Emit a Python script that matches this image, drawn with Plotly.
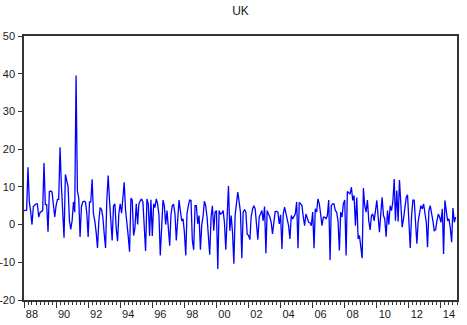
import pandas as pd
import plotly.graph_objects as go

# Monthly values, 1988M01 - 2014M12, one list per year
y1988 = [3.7, 3.7, 3.8, 15.2, 6, 3.5, 0, 4.8, 5.2, 5.5, 5.5, 2]
y1989 = [3.2, 3.5, 3.7, 16.3, 5.3, 5.3, -1.9, 8.8, 8.9, 8.6, 4, 2]
y1990 = [5, 6.7, 6.7, 20.5, 10.5, 4, -3.5, 13.3, 11.8, 10, 1, -1.3]
y1991 = [1, 6, 3.3, 39.5, 9, 7, -3.3, 4.8, 6, 6.2, 6, 3]
y1992 = [-3.3, 6, 6, 12, 2.8, 1, -2, -6.2, 1, 4.5, 4, 2]
y1993 = [-2.5, -6.2, 6.5, 13, 6.5, 1, -4.2, 5, 5.5, -1, -4.4, 3]
y1994 = [5.5, 3, 7, 11.2, 4, -0.7, -3, -7.2, 7, 6.5, -2.9, -1]
y1995 = [5.5, 0, 5.5, 6.3, 6.8, 6, -0.5, -7, 6.8, 5.5, -3, 6.6]
y1996 = [-3, 5.5, 4.5, 6.8, 5.5, 2.5, -8.2, 1, 6.5, 5, 0, 3.7]
y1997 = [0, -5.6, 2.6, 5.1, 5.3, 2.8, -4.2, 2, 6.5, 3.7, 1, 1.5]
y1998 = [-2, -8.2, 2.8, 5, 6.5, 6.4, -4.2, -6.7, 5, 5, 0.2, 2.4]
y1999 = [-6.7, 0, 2, 6.2, 5, 2, -3, -8, 2, 5, -1.6, 3.3]
y2000 = [3.7, -11.8, 3.7, 2.8, 3, 3.7, 0.6, -6.7, 2, 10.2, -1.6, 2.4]
y2001 = [-2, -10.4, 2.4, 5.5, 8.6, 6, 3.3, -8.9, 3.3, 4, 3.3, -2.5]
y2002 = [-2.9, -4, 2, 4, 5, 4.2, 1, -4, 2, 3, 3.7, 1]
y2003 = [4.8, -7.6, 3.7, 2.8, 2, 0.6, -2.5, 0.6, 3.5, 3.5, 3.3, 0.2]
y2004 = [2.6, -6.5, 2.8, 4.6, 3, 1, -0.3, -3.8, 2.4, 1.5, 2, 2.8]
y2005 = [6, -6.3, 5.9, 5.3, 5.1, 2, -0.3, 2.8, 1.5, 0.6, 0.5, -0.3]
y2006 = [3.3, -6.3, 4.2, 3.3, 6.8, 5.5, 2.8, -0.3, 2, 2, 1.5, 2.4]
y2007 = [6.5, -9.4, 5, 5.5, 5.5, 3.7, 3.3, 1, -6.9, 3.3, 2, 5.5]
y2008 = [6.5, -8.2, 8.8, 8.5, 8.1, 9.9, 6.4, 7.7, -0.3, 7.2, -3.8, -2.9]
y2009 = [-6, -8.9, 9.7, 5, 3.3, 6.5, 1, -1.4, 2.4, 2.8, 1, 3.7]
y2010 = [6.4, 2, -2, 2.8, 7.2, 2.4, 1.5, -3.2, 3.7, 0, 5, 3.7]
y2011 = [6, 12.1, 1, 9, 0.8, 11.8, 4.2, -0.7, 1.5, 4, 7.2, 7.9]
y2012 = [1, -6.2, 2, 6.5, 6.5, 1, -5.1, 1, 3.3, 5, 4.2, 5.5]
y2013 = [3, 0.6, -6, 3.7, 5, 3.3, 1, -1.6, -1.4, 1, 2.8, 2]
y2014 = [0.6, 4.2, -7.8, 6.4, 3.7, 1, 1.5, -0.9, -4.7, 4.4, 0.6, 2]

values = (y1988 + y1989 + y1990 + y1991 + y1992 + y1993 + y1994 + y1995 + y1996
          + y1997 + y1998 + y1999 + y2000 + y2001 + y2002 + y2003 + y2004 + y2005
          + y2006 + y2007 + y2008 + y2009 + y2010 + y2011 + y2012 + y2013 + y2014)
dates = pd.date_range("1988-01-01", periods=len(values), freq="MS")

label_years = list(range(1988, 2015, 2))
tick_labels = [f"{y % 100:02d}" for y in label_years]
y_ticks = [-20, -10, 0, 10, 20, 30, 40, 50]
y_tick_text = [str(v) for v in y_ticks]

fig = go.Figure()
fig.add_trace(go.Scatter(x=dates, y=values, mode="lines",
                         line=dict(color="#0000FF", width=1.3),
                         showlegend=False, hoverinfo="skip"))
# invisible trace to host the label axis
fig.add_trace(go.Scatter(x=[dates[0]], y=[None], xaxis="x2", showlegend=False,
                         hoverinfo="skip"))

xr = ["1988-01-01", "2015-01-01"]
font = dict(family="Liberation Sans, Arial, sans-serif", size=11, color="#1a1a1a")

fig.update_layout(
    width=467, height=325,
    margin=dict(l=24, r=10, t=36, b=25),
    paper_bgcolor="white", plot_bgcolor="white",
    title=dict(text="UK", x=0.515, xanchor="center", y=1 - 11 / 325,
               yanchor="middle", font=dict(family="Liberation Sans, Arial, sans-serif",
                                           size=12, color="#1a1a1a")),
    xaxis=dict(type="date", range=xr, showgrid=False, zeroline=False, automargin=False,
               showline=True, linecolor="#333333", linewidth=1.5, mirror=True,
               tickvals=[f"{y}-01-01" for y in label_years],
               ticks="outside", ticklen=6, tickcolor="#333333", tickwidth=1,
               showticklabels=False,
               minor=dict(dtick="M3", tick0="1988-01-01", ticks="outside", ticklen=3,
                          tickcolor="#333333", tickwidth=1, showgrid=False)),
    xaxis2=dict(type="date", range=xr, overlaying="x", anchor="y", side="bottom",
                showgrid=False, zeroline=False, showline=False, automargin=False,
                tickvals=[f"{y}-07-01" for y in label_years], ticktext=tick_labels,
                ticks="", tickfont=font, ticklabelstandoff=6),
    yaxis=dict(range=[-20, 50], tickvals=y_ticks, ticktext=y_tick_text,
               showgrid=False, zeroline=False, automargin=False,
               showline=True, linecolor="#333333", linewidth=1.5, mirror=True,
               ticks="outside", ticklen=4, tickcolor="#333333", tickwidth=1,
               tickfont=font, ticklabelstandoff=1),
)

fig.write_html("out.html")
